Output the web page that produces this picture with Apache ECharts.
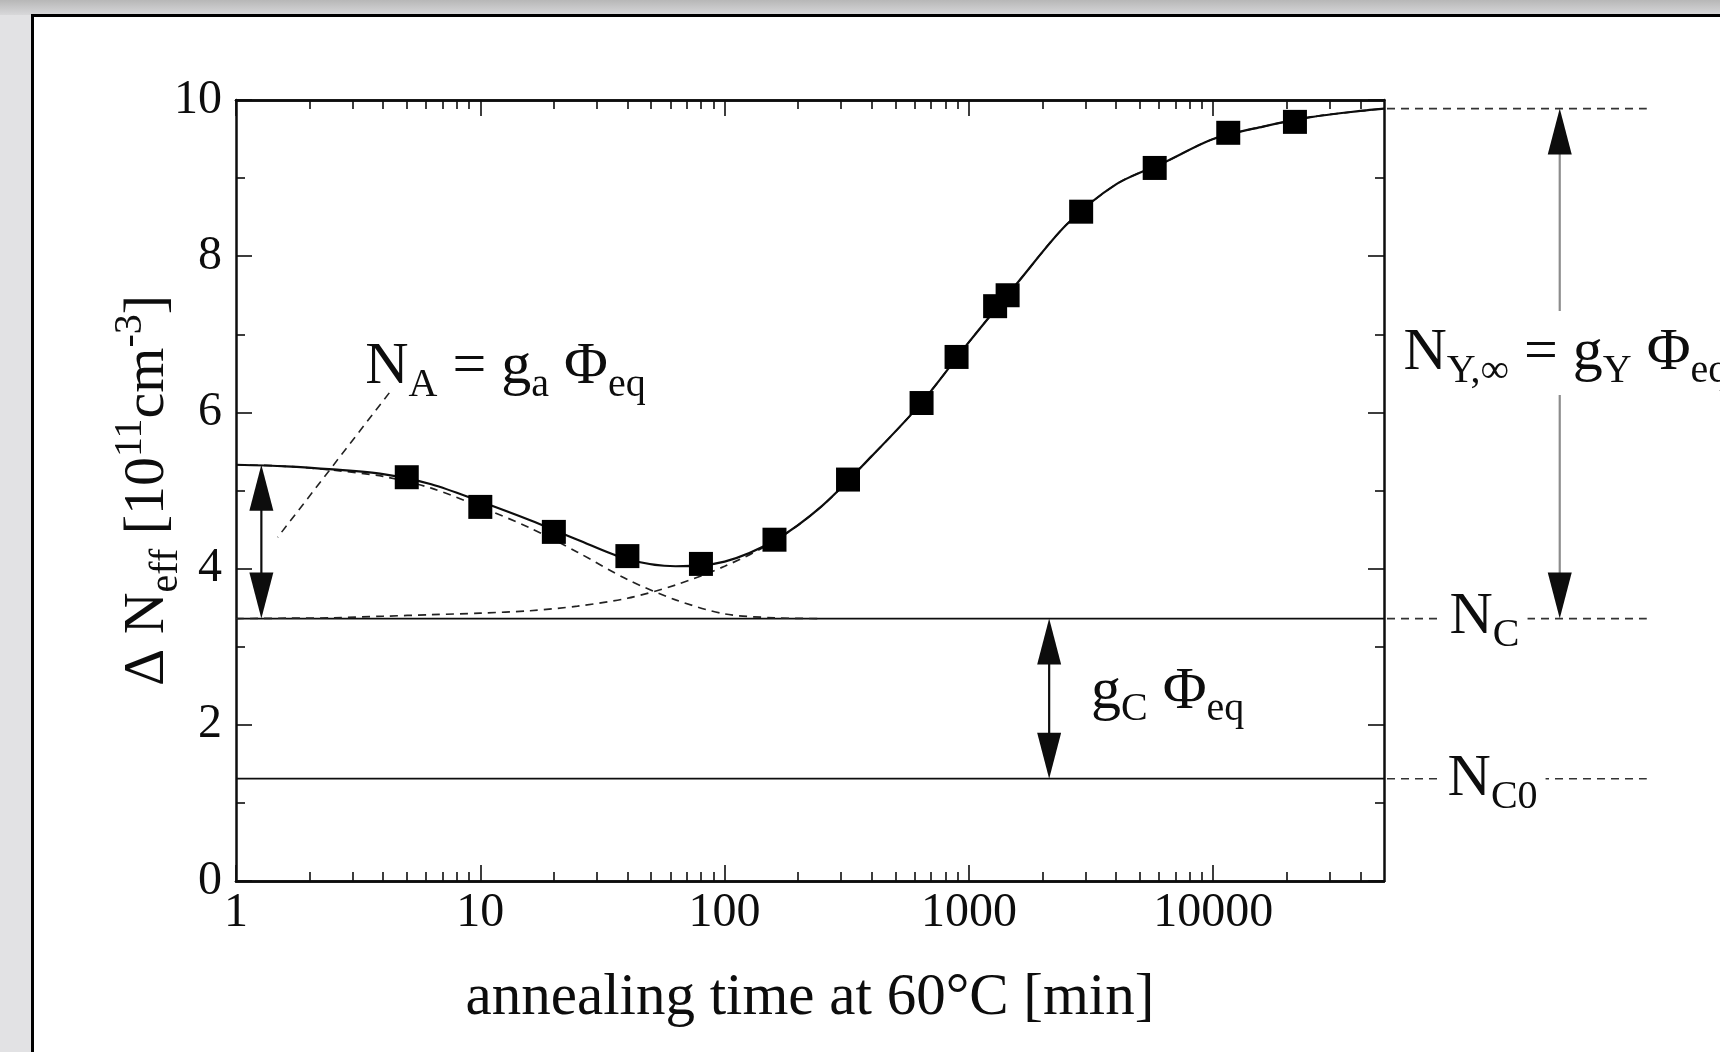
<!DOCTYPE html>
<html>
<head>
<meta charset="utf-8">
<script src="https://cdn.jsdelivr.net/npm/echarts@6/dist/echarts.min.js"></script>
<style>
  html, body { margin: 0; padding: 0; width: 1720px; height: 1052px; overflow: hidden; background: #e2e2e4; }
  #topband { position: absolute; left: 0; top: 0; width: 1720px; height: 15px; background: linear-gradient(#b7b7b7, #d8d8da); }
  #panel { position: absolute; left: 31px; top: 14px; width: 1700px; height: 1050px; background: #fff;
           border-left: 3px solid #000; border-top: 3px solid #000; box-sizing: border-box; }
  #chart { position: absolute; left: 0; top: 0; width: 1720px; height: 1052px; }
</style>
</head>
<body>
<div id="topband"></div>
<div id="panel"></div>
<div id="chart"></div>
<script>
// ---- axis ranges and ticks ----
const xMin = 1;
const xMax = 50000;
const xMajorTicks = [1, 10, 100, 1000, 10000];
const xMinorTicks = [2, 3, 4, 5, 6, 7, 8, 9,
                     20, 30, 40, 50, 60, 70, 80, 90,
                     200, 300, 400, 500, 600, 700, 800, 900,
                     2000, 3000, 4000, 5000, 6000, 7000, 8000, 9000,
                     20000, 30000, 40000];
const yMin = 0;
const yMax = 10;
const yStep = 2;

// ---- measured annealing data (min, 1e11 cm^-3) ----
const timeMeasured = [5, 10, 20, 40, 80, 160, 320, 640, 890, 1280, 1440, 2880, 5760, 11520, 21600];
const deltaNeffMeasured = [5.17, 4.79, 4.47, 4.16, 4.06, 4.37, 5.14, 6.12, 6.71, 7.36, 7.50, 8.57, 9.13, 9.58, 9.72];

// ---- fitted curves, sampled about five times per decade ----
const fitTime = [1, 1.6, 2.5, 4, 6.3, 10, 16, 25, 40, 63, 100, 160, 250, 400, 630,
                 1000, 1600, 2500, 4000, 6300, 10000, 16000, 25000, 40000, 50000];
const fitTotal = [5.33, 5.31, 5.27, 5.21, 5.08, 4.86, 4.62, 4.37, 4.12, 4.03, 4.09, 4.36, 4.80, 5.44, 6.10,
                  6.90, 7.68, 8.40, 8.92, 9.20, 9.50, 9.66, 9.78, 9.86, 9.89];
const fitReverse = [3.36, 3.365, 3.37, 3.39, 3.41, 3.43, 3.46, 3.52, 3.62, 3.79, 4.03, 4.35, 4.80, 5.44, 6.10,
                    6.90, 7.68, 8.40, 8.92, 9.20, 9.50, 9.66, 9.78, 9.86, 9.89];
const shortTermTime = [1, 1.6, 2.5, 4, 6.3, 10, 16, 25, 40, 63, 100, 160, 250];
const fitShortTerm = [5.33, 5.31, 5.26, 5.18, 5.03, 4.79, 4.52, 4.21, 3.86, 3.60, 3.42, 3.37, 3.36];

// ---- characteristic levels ----
const levelStart = 5.33;        // N_C + N_A
const levelNC = 3.36;           // N_C
const levelNC0 = 1.31;          // N_C0
const levelSaturation = 9.89;   // N_C + N_Y,inf
const guideEndTime = 595000;    // where the right-hand guide lines stop

// arrows: [time, from level, to level]
const arrowsBlack = [[1.27, levelStart, levelNC], [2130, levelNC, levelNC0]];
const arrowsGrey = [[262000, levelSaturation, levelNC]];
// dashed leader for N_A: [t1, y1, t2, y2]
const leaderNA = [[4.24, 6.25, 1.48, 4.40]];
// guide lines beyond the right axis: [start time, level, end time]
const guides = [[xMax, levelSaturation, guideEndTime], [xMax, levelNC, guideEndTime], [xMax, levelNC0, guideEndTime]];

// formula labels and their anchors [time, level]
const labelTexts = [
  '{m|N}{s|A}{m| = g}{s|a}{m| Φ}{s|eq}',
  '{m|N}{s|Y,∞}{m| = g}{s|Y}{m| Φ}{s|eq}',
  '{m|N}{s|C}',
  '{m|N}{s|C0}',
  '{m|g}{s|C}{m| Φ}{s|eq}'
];
const labelAnchors = [[3.38, 6.58], [55700, 6.76], [86000, 3.38], [84400, 1.30], [3160, 2.42]];
const labelMasked = [false, true, true, true, false];

// ---- drawing ----
const SERIF = '"Liberation Serif", "Times New Roman", serif';
const INK = '#0d0d0d';

const zip = (xs, ys) => xs.map((x, i) => [x, ys[i]]);

function makeArrow(lineColor) {
  return function (params, api) {
    const a = api.coord([api.value(0), api.value(1)]);
    const b = api.coord([api.value(0), api.value(2)]);
    const hl = 46, hw = 12;
    return {
      type: 'group',
      children: [
        { type: 'line', shape: { x1: a[0], y1: a[1] + hl - 4, x2: b[0], y2: b[1] - hl + 4 },
          style: { stroke: lineColor, lineWidth: 2.2 } },
        { type: 'polygon', shape: { points: [[a[0], a[1]], [a[0] - hw, a[1] + hl], [a[0] + hw, a[1] + hl]] },
          style: { fill: INK } },
        { type: 'polygon', shape: { points: [[b[0], b[1]], [b[0] - hw, b[1] - hl], [b[0] + hw, b[1] - hl]] },
          style: { fill: INK } }
      ]
    };
  };
}

const richLabel = {
  m: { fontSize: 60, fontFamily: SERIF, fill: INK },
  s: { fontSize: 40, fontFamily: SERIF, fill: INK, padding: [36, 0, 0, 0] }
};

const axisLineStyle = { color: INK, width: 2.5 };

function xAxisDef(position, ticks, len, withLabels) {
  return {
    type: 'log', logBase: 10, min: xMin, max: xMax, position: position,
    axisLine: { show: true, onZero: false, lineStyle: axisLineStyle },
    axisTick: { show: true, inside: true, length: len, customValues: ticks, lineStyle: { color: INK, width: 1.6 } },
    axisLabel: withLabels ? {
      show: true, customValues: ticks, margin: 8,
      fontFamily: SERIF, fontSize: 48, color: INK,
      formatter: v => String(Math.round(v))
    } : { show: false },
    splitLine: { show: false },
    minorTick: { show: false },
    name: withLabels ? 'annealing time at 60°C [min]' : '',
    nameLocation: 'middle',
    nameGap: 88,
    nameTextStyle: { fontFamily: SERIF, fontSize: 59, color: INK }
  };
}

function yAxisDef(position, withLabels) {
  return {
    type: 'value', min: yMin, max: yMax, interval: yStep, position: position,
    axisLine: { show: true, onZero: false, lineStyle: axisLineStyle },
    axisTick: { show: true, inside: true, length: 16, lineStyle: { color: INK, width: 1.6 } },
    minorTick: { show: true, splitNumber: 2, length: 9, lineStyle: { color: INK, width: 1.6 } },
    axisLabel: withLabels ? { show: true, margin: 14, fontFamily: SERIF, fontSize: 48, color: INK } : { show: false },
    splitLine: { show: false },
    name: withLabels ? '{m|Δ N}{s|eff}{m| [10}{u|11}{m|cm}{u|-3}{m|]}' : '',
    nameLocation: 'middle',
    nameGap: 50,
    nameMoveOverlap: false,
    nameTextStyle: {
      fontFamily: SERIF, fontSize: 58, color: INK,
      rich: {
        m: { fontFamily: SERIF, fontSize: 58, color: INK },
        s: { fontFamily: SERIF, fontSize: 40, color: INK, padding: [36, 0, 0, 0] },
        u: { fontFamily: SERIF, fontSize: 40, color: INK, padding: [0, 0, 36, 0] }
      }
    }
  };
}

const chart = echarts.init(document.getElementById('chart'), null, { renderer: 'canvas' });

chart.setOption({
  backgroundColor: 'transparent',
  animation: false,
  grid: { left: 236, right: 336, top: 100, bottom: 171, containLabel: false },
  xAxis: [
    xAxisDef('bottom', xMajorTicks, 16, true),
    xAxisDef('bottom', xMinorTicks, 9, false),
    xAxisDef('top', xMajorTicks, 16, false),
    xAxisDef('top', xMinorTicks, 9, false)
  ],
  yAxis: [yAxisDef('left', true), yAxisDef('right', false)],
  series: [
    {
      name: 'N_C0 level', type: 'line', xAxisIndex: 0, yAxisIndex: 0,
      data: [[xMin, levelNC0], [xMax, levelNC0]], showSymbol: false,
      lineStyle: { color: INK, width: 1.8 }, z: 2
    },
    {
      name: 'N_C level', type: 'line', xAxisIndex: 0, yAxisIndex: 0,
      data: [[xMin, levelNC], [xMax, levelNC]], showSymbol: false,
      lineStyle: { color: INK, width: 1.8 }, z: 2
    },
    {
      name: 'short-term annealing', type: 'line', data: zip(shortTermTime, fitShortTerm),
      showSymbol: false, smooth: 0.3,
      lineStyle: { color: '#222', width: 1.7, type: [8, 6] }, z: 3
    },
    {
      name: 'reverse annealing', type: 'line', data: zip(fitTime, fitReverse),
      showSymbol: false, smooth: 0.3,
      lineStyle: { color: '#222', width: 1.7, type: [8, 6] }, z: 3
    },
    {
      name: 'fit', type: 'line', data: zip(fitTime, fitTotal),
      showSymbol: false, smooth: 0.3,
      lineStyle: { color: INK, width: 2.2 }, z: 4
    },
    {
      name: 'measured', type: 'scatter', data: zip(timeMeasured, deltaNeffMeasured),
      symbol: 'rect', symbolSize: 24, itemStyle: { color: '#000', opacity: 1 }, z: 5
    },
    {
      name: 'guides', type: 'custom', clip: false, data: guides, z: 3,
      renderItem: function (params, api) {
        const a = api.coord([api.value(0), api.value(1)]);
        const b = api.coord([api.value(2), api.value(1)]);
        return { type: 'line', shape: { x1: a[0] + 3, y1: a[1], x2: b[0], y2: b[1] },
                 style: { stroke: '#333', lineWidth: 1.6, lineDash: [8, 6] } };
      }
    },
    {
      name: 'leader', type: 'custom', clip: false, data: leaderNA, z: 3,
      renderItem: function (params, api) {
        const a = api.coord([api.value(0), api.value(1)]);
        const b = api.coord([api.value(2), api.value(3)]);
        return { type: 'line', shape: { x1: a[0], y1: a[1], x2: b[0], y2: b[1] },
                 style: { stroke: '#222', lineWidth: 1.6, lineDash: [8, 6] } };
      }
    },
    { name: 'arrows', type: 'custom', clip: false, data: arrowsBlack, z: 6, renderItem: makeArrow(INK) },
    { name: 'arrow NY', type: 'custom', clip: false, data: arrowsGrey, z: 6, renderItem: makeArrow('#8c8c8c') },
    {
      name: 'labels', type: 'custom', clip: false, data: labelAnchors, z: 8,
      renderItem: function (params, api) {
        const p = api.coord([api.value(0), api.value(1)]);
        const i = params.dataIndex;
        return {
          type: 'text', x: p[0], y: p[1], z2: 10,
          style: {
            text: labelTexts[i], rich: richLabel,
            fontFamily: SERIF, fontSize: 60, fill: INK,
            align: 'left', verticalAlign: 'middle',
            backgroundColor: labelMasked[i] ? '#fff' : null,
            padding: labelMasked[i] ? [4, 8, 4, 8] : 0
          }
        };
      }
    }
  ]
});
</script>
</body>
</html>
